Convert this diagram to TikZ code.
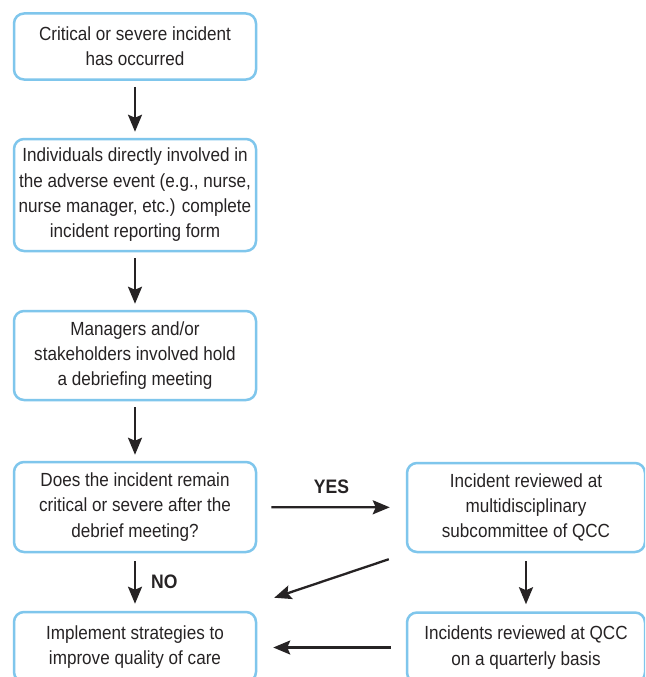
\documentclass[tikz,border=0pt]{standalone}
\usepackage{fontspec}
\setmainfont{Liberation Sans}[FakeStretch=0.9]
\usetikzlibrary{arrows.meta,calc}
\definecolor{boxblue}{RGB}{127,198,236}
\definecolor{inkgray}{RGB}{38,35,36}
\tikzset{
  stepbox/.style={draw=boxblue, line width=2.5pt, rounded corners=10pt,
    fill=white, align=center, inner sep=0pt, text=inkgray,
    font=\fontsize{19}{25.3}\selectfont},
  flow/.style={line width=2.3pt, draw=inkgray,
    -{Stealth[length=17pt,width=14pt,inset=3pt]}},
  answer/.style={inner sep=0pt, text=inkgray,
    font=\fontsize{19.5}{22}\selectfont\bfseries}
}
\begin{document}
\begin{tikzpicture}[x=1pt,y=-1pt]
\useasboundingbox (0,0) rectangle (645,677);
\fill[white] (0,0) rectangle (645,677);
\clip (0,0) rectangle (645,677);

% left column
\node[stepbox, minimum width=242pt, minimum height=66pt] (b1) at (135,46.5)
  {Critical or severe incident\\has occurred};
\node[stepbox, minimum width=242pt, minimum height=112pt] (b2) at (135,195)
  {Individuals directly involved in\\the adverse event (e.g., nurse,\\nurse manager, etc.) complete\\incident reporting form};
\node[stepbox, minimum width=242pt, minimum height=89pt] (b3) at (135,355.5)
  {Managers and/or\\stakeholders involved hold\\a debriefing meeting};
\node[stepbox, minimum width=242pt, minimum height=90pt] (b4) at (135,507)
  {Does the incident remain\\critical or severe after the\\debrief meeting?};
\node[stepbox, minimum width=242pt, minimum height=70pt] (b7) at (135,647)
  {Implement strategies to\\improve quality of care};

% right column
\node[stepbox, minimum width=238pt, minimum height=89pt] (b5) at (526,507.5)
  {Incident reviewed at\\multidisciplinary\\subcommittee of QCC};
\node[stepbox, minimum width=238pt, minimum height=70pt] (b6) at (526,647.5)
  {Incidents reviewed at QCC\\on a quarterly basis};

% connectors
\draw[flow, shorten <=6pt, shorten >=6pt] (b1) -- (b2);
\draw[flow, shorten <=6pt, shorten >=6pt] (b2) -- (b3);
\draw[flow, shorten <=6pt, shorten >=6pt] (b3) -- (b4);
\draw[flow, shorten <=8pt, shorten >=7pt] (b4) -- node[answer, right=15pt] {NO} (b7);
\draw[flow, shorten <=14pt, shorten >=16pt] (b4) -- node[answer, above=12pt] {YES} (b5);
\draw[flow, shorten <=8pt, shorten >=7pt] (b5) -- (b6);
\draw[flow] ($(b5.south west)+(-17,6)$) -- ($(b7.north east)+(17,-13)$);
\draw[flow, shorten <=15pt, shorten >=16pt] (b6.west) -- (b6.west -| b7.east);
\end{tikzpicture}
\end{document}
